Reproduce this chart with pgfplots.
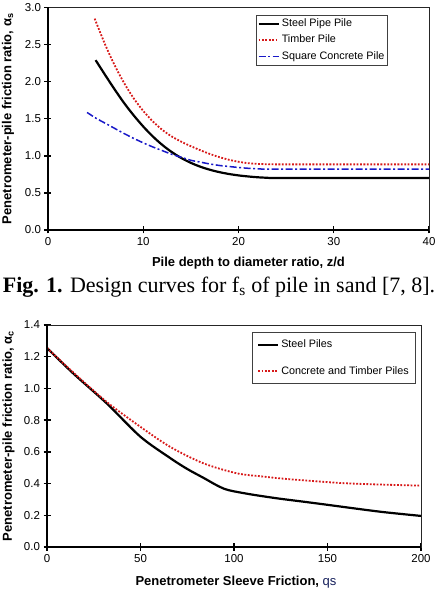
\documentclass[border=0pt]{standalone}
\usepackage{fontspec}
\setmainfont{Liberation Serif}
\newfontfamily\arial{Liberation Sans}
\usepackage{pgfplots}
\pgfplotsset{compat=1.18}
\definecolor{pred}{RGB}{215,25,25}
\definecolor{pblue}{RGB}{25,25,200}
\definecolor{navy}{RGB}{20,30,90}

\pgfplotsset{
  mystyle/.style={
    scale only axis, anchor=south west, clip=false,
    axis line style={line width=0.8pt, draw=black!85},
    tick pos=left, tick align=center, major tick length=7pt,
    major tick style={black, line width=1.4pt},
    tick label style={font=\arial\fontsize{11.5}{12}\selectfont},
    /pgf/number format/assume math mode=true,
    label style={font=\arial\bfseries\fontsize{13}{14}\selectfont},
    legend cell align=left,
    legend style={font=\arial\fontsize{10.8}{12}\selectfont, draw=black!75, line width=0.8pt, anchor=north east},
    legend image code/.code={\draw[##1] (0pt,0pt) -- (20pt,0pt);},
  },
  steel/.style={black, line width=2.2pt},
  timber/.style={pred, line width=1.8pt, dash pattern=on 1.8pt off 1.6pt},
  concrete/.style={pblue, line width=1.5pt, dash pattern=on 7pt off 2.5pt on 2pt off 2.5pt},
}

\begin{document}
\begin{tikzpicture}[x=1pt,y=1pt]
\path[use as bounding box] (0,0) rectangle (440,596);

\begin{axis}[mystyle, at={(48pt,366pt)}, width=381pt, height=222.5pt,
  xmin=0, xmax=40, ymin=0, ymax=3,
  xtick={0,10,20,30,40}, ytick={0,0.5,1,1.5,2,2.5,3},
  yticklabel style={/pgf/number format/.cd,fixed,fixed zerofill,precision=1},
  xlabel={Pile depth to diameter ratio, z/d},
  ylabel={Penetrometer-pile friction ratio, α\textsubscript{s}},
  x label style={at={([xshift=10pt,yshift=-33pt]axis description cs:0.5,0)}, anchor=center},
  y label style={at={([xshift=-40pt]axis description cs:0,0.5)}, anchor=center},
  legend style={at={(axis description cs:0.892,0.966)}, inner sep=1pt, row sep=2pt,
    nodes={inner sep=2pt, text height=8pt, text depth=2.5pt}},
]
\addplot[steel, smooth] coordinates {
 (5,2.29) (6,2.09) (7,1.895) (8,1.71) (9,1.545) (10,1.395) (11,1.262) (12,1.147)
 (13,1.05) (14,0.97) (15,0.905) (16,0.853) (17,0.812) (18,0.78) (19,0.755)
 (20,0.736) (21,0.722) (22,0.711) (23,0.704) (24,0.70) (30,0.70) (40,0.70)};
\addlegendentry{Steel Pipe Pile}
\addplot[timber, smooth] coordinates {
 (4.9,2.85) (6,2.50) (7,2.22) (8,1.98) (9,1.775) (10,1.605) (11,1.465) (12,1.35)
 (13,1.26) (14,1.19) (15,1.13) (16,1.075) (17,1.025) (18,0.982) (19,0.947)
 (20,0.92) (21,0.901) (22,0.891) (23,0.887) (24,0.885) (32,0.885) (40,0.885)};
\addlegendentry{Timber Pile}
\addplot[concrete, smooth] coordinates {
 (4.1,1.585) (5,1.51) (6,1.44) (7,1.37) (8,1.30) (9,1.235) (10,1.175) (11,1.12)
 (12,1.07) (13,1.02) (14,0.98) (15,0.94) (16,0.915) (17,0.89) (18,0.87)
 (19,0.856) (20,0.843) (21,0.832) (22,0.825) (23,0.82) (26,0.82) (40,0.82)};
\addlegendentry{Square Concrete Pile}
\draw[line width=2pt, black] (rel axis cs:0,1) -- (rel axis cs:0,0) -- (rel axis cs:1,0);
\end{axis}

\node[anchor=base, font=\fontsize{22}{26}\selectfont, inner sep=0pt] at (219,303.5)
  {\textbf{Fig. 1.} Design curves for f\textsubscript{s} of pile in sand [7, 8].};

\begin{axis}[mystyle, at={(47pt,49pt)}, width=374pt, height=222pt,
  xmin=0, xmax=200, ymin=0, ymax=1.4,
  xtick={0,50,100,150,200}, ytick={0,0.2,0.4,0.6,0.8,1,1.2,1.4},
  yticklabel style={/pgf/number format/.cd,fixed,fixed zerofill,precision=1},
  xlabel={Penetrometer Sleeve Friction, {\mdseries\color{navy}qs}},
  ylabel={Penetrometer-pile friction ratio, α\textsubscript{c}},
  x label style={at={([xshift=2pt,yshift=-35pt]axis description cs:0.5,0)}, anchor=center},
  y label style={at={([xshift=-38.5pt]axis description cs:0,0.5)}, anchor=center},
  legend style={at={(axis description cs:0.987,0.968)}, inner sep=5pt, row sep=12pt,
    nodes={inner sep=2pt, text height=8pt, text depth=2.5pt}},
]
\addplot[steel, smooth] coordinates {
 (0,1.255) (14,1.095) (32,0.905) (50,0.695) (66,0.56) (75,0.492) (84,0.434)
 (90,0.394) (95,0.366) (100,0.351) (110,0.33) (123,0.307) (137,0.286) (150,0.266)
 (164,0.244) (180,0.22) (200,0.196)};
\addlegendentry{Steel Piles}
\addplot[timber, smooth] coordinates {
 (0,1.255) (14.1,1.10) (31.9,0.915) (49.7,0.76) (65.8,0.632) (83.6,0.528)
 (101.4,0.465) (115,0.445) (128.2,0.429) (154.9,0.405) (175,0.395) (199.5,0.387)};
\addlegendentry{Concrete and Timber Piles}
\draw[line width=2pt, black] (rel axis cs:0,1) -- (rel axis cs:0,0) -- (rel axis cs:1,0);
\end{axis}
\end{tikzpicture}
\end{document}
